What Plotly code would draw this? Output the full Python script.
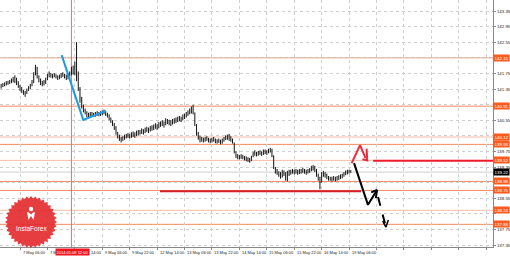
import math
import plotly.graph_objects as go

# ---------------- data ----------------
bar_start = -11  # hourly bar index, 0 = 7 May 06:00
lows = [141.36, 141.40, 141.42, 141.44, 141.46, 141.48, 141.50, 141.52, 141.50, 141.45, 141.38,
        141.30, 141.25, 141.20, 141.15, 141.22, 141.30, 141.35, 141.42, 141.50, 141.70, 141.62, 141.52, 141.45, 141.42, 141.44, 141.48,
        141.58, 141.65, 141.64, 141.62, 141.65, 141.62, 141.58, 141.60, 141.63, 141.66, 141.62, 141.58, 141.60, 141.64, 141.70, 141.72,
        141.70, 141.55, 141.30, 141.00, 140.85, 140.75, 140.70, 140.62, 140.60, 140.62, 140.64, 140.63, 140.64, 140.66, 140.65, 140.66,
        140.68, 140.70, 140.66, 140.62, 140.55, 140.48, 140.40, 140.30, 140.18, 140.08, 140.02, 139.98, 140.02, 140.05, 140.08, 140.10,
        140.08, 140.10, 140.12, 140.10, 140.14, 140.16, 140.18, 140.20, 140.18, 140.22, 140.25, 140.22, 140.26, 140.28, 140.30, 140.33,
        140.30, 140.34, 140.38, 140.40, 140.36, 140.42, 140.45, 140.42, 140.40, 140.44, 140.46, 140.48, 140.50, 140.52, 140.50, 140.55,
        140.58, 140.62, 140.66, 140.70, 140.72, 140.70, 140.40, 140.15, 140.05, 139.98, 140.00, 139.98, 140.00, 140.02, 139.98, 139.96,
        139.98, 140.00, 139.96, 139.95, 139.97, 139.93, 139.95, 140.00, 140.04, 140.05, 140.02, 140.00, 139.95, 139.70, 139.58, 139.55,
        139.54, 139.56, 139.55, 139.52, 139.50, 139.48, 139.46, 139.50, 139.60, 139.64, 139.62, 139.64, 139.66, 139.63, 139.66, 139.68,
        139.66, 139.70, 139.72, 139.60, 139.30, 139.18, 139.15, 139.10, 139.05, 139.08, 139.12, 139.00, 138.98, 139.12, 139.15, 139.18,
        139.16, 139.18, 139.15, 139.17, 139.18, 139.20, 139.18, 139.15, 139.18, 139.20, 139.24, 139.26, 139.22, 139.10, 139.00, 138.78,
        138.95, 139.10, 139.08, 139.04, 139.00, 139.00, 138.98, 139.00, 138.98, 139.00, 139.02, 139.04, 139.06, 139.10, 139.14, 139.16, 139.18, 139.20]
highs = [141.48, 141.50, 141.52, 141.55, 141.56, 141.58, 141.62, 141.66, 141.70, 141.64, 141.55,
         141.45, 141.40, 141.33, 141.30, 141.36, 141.42, 141.48, 141.58, 141.78, 141.97, 141.92, 141.70, 141.62, 141.56, 141.58, 141.64,
         141.74, 141.80, 141.76, 141.74, 141.76, 141.73, 141.70, 141.72, 141.76, 141.78, 141.74, 141.72, 141.75, 141.80, 141.92, 141.95,
         142.05, 142.55, 141.80, 141.40, 141.15, 140.95, 140.85, 140.78, 140.74, 140.76, 140.76, 140.74, 140.76, 140.78, 140.76, 140.78,
         140.80, 140.82, 140.78, 140.74, 140.70, 140.62, 140.55, 140.48, 140.40, 140.25, 140.18, 140.12, 140.14, 140.18, 140.20, 140.22,
         140.20, 140.24, 140.26, 140.24, 140.28, 140.30, 140.30, 140.34, 140.32, 140.36, 140.38, 140.36, 140.40, 140.42, 140.44, 140.47,
         140.45, 140.50, 140.52, 140.55, 140.52, 140.60, 140.58, 140.56, 140.55, 140.58, 140.60, 140.62, 140.64, 140.66, 140.64, 140.70,
         140.72, 140.76, 140.80, 140.85, 140.90, 140.94, 140.75, 140.45, 140.25, 140.15, 140.12, 140.10, 140.12, 140.14, 140.10, 140.08,
         140.10, 140.12, 140.08, 140.06, 140.08, 140.05, 140.08, 140.12, 140.16, 140.18, 140.20, 140.14, 140.08, 139.98, 139.75, 139.68,
         139.66, 139.68, 139.66, 139.63, 139.62, 139.60, 139.58, 139.64, 139.74, 139.78, 139.74, 139.76, 139.78, 139.75, 139.80, 139.80,
         139.78, 139.82, 139.84, 139.82, 139.65, 139.35, 139.30, 139.24, 139.22, 139.28, 139.26, 139.22, 139.25, 139.28, 139.28, 139.30,
         139.28, 139.30, 139.28, 139.30, 139.30, 139.33, 139.30, 139.28, 139.30, 139.32, 139.38, 139.40, 139.38, 139.30, 139.18, 139.10,
         139.22, 139.25, 139.22, 139.18, 139.12, 139.10, 139.10, 139.12, 139.10, 139.12, 139.14, 139.16, 139.18, 139.22, 139.26, 139.28, 139.28, 139.27]

tick_index = [-16, 0, 16, 32, 48, 64, 80, 96, 112, 128, 144, 160, 176, 192, 208, 224, 240, 256, 272]
# visible part of each time label (the red date box hides part of two of them)
tick_labels = ["6 May 14:00", "7 May 06:00", "7 M", "", "9 May 06:00", "9 May 22:00",
               "12 May 14:00", "13 May 06:00", "13 May 22:00", "14 May 14:00", "15 May 06:00", "15 May 22:00",
               "16 May 14:00", "19 May 06:00", "", "", "", "", ""]
price_ticks = [137.35, 137.75, 138.15, 138.55, 138.95, 139.35, 139.75, 140.15, 140.55, 140.95,
               141.35, 141.75, 142.15, 142.55, 142.95, 143.35]

level_prices = [142.15, 140.91, 140.12, 139.93, 139.52, 138.98, 138.75, 138.24, 137.88]
level_strong = [True, True, False, True, False, True, True, False, True]
current_price = 139.22

event_index = 30
event_label = "2014.05.08 12:00"
event_tail_label = "14:00"

support_line_x = [81.7, 199.0]
support_line_y = [138.73, 138.73]
resist_line_x = [206.0, 276.0]
resist_line_y = [139.51, 139.51]

blue_x = [24.3, 36.9, 50.2]
blue_y = [142.22, 140.56, 140.79]

black_x = [194.9, 203.0, 208.3]
black_y = [139.45, 138.38, 138.76]
black_head_x = [204.9, 208.3, 207.6]
black_head_y = [138.70, 138.76, 138.55]

dash_x = [208.9, 213.5]
dash_y = [138.58, 137.81]
dash_head_x = [211.6, 213.5, 214.9]
dash_head_y = [137.96, 137.81, 137.99]

red_x = [193.5, 198.4, 201.6]
red_y = [139.45, 139.91, 139.58]
red_head_x = [202.2, 202.6, 199.8]
red_head_y = [139.82, 139.52, 139.55]

# ---------------- figure ----------------
X0, X1 = -11.67, 275.96
Y0, Y1 = 137.299, 143.632
PW, PH = 493, 247

bar_index = list(range(bar_start, bar_start + len(lows)))
bx, by = [], []
for i, lo, hi in zip(bar_index, lows, highs):
    bx += [i, i, None]
    by += [lo, hi, None]

fig = go.Figure()
fig.add_trace(go.Scatter(x=bx, y=by, mode="lines", line=dict(color="#111111", width=1),
                         hoverinfo="skip", showlegend=False))
fig.add_trace(go.Scatter(x=blue_x, y=blue_y, mode="lines", line=dict(color="#1E9BE0", width=2),
                         showlegend=False))
fig.add_trace(go.Scatter(x=black_x, y=black_y, mode="lines", line=dict(color="#000000", width=2),
                         showlegend=False))
fig.add_trace(go.Scatter(x=black_head_x, y=black_head_y, mode="lines", line=dict(color="#000000", width=2),
                         showlegend=False))
fig.add_trace(go.Scatter(x=dash_x, y=dash_y, mode="lines", line=dict(color="#000000", width=2, dash="dash"),
                         showlegend=False))
fig.add_trace(go.Scatter(x=dash_head_x, y=dash_head_y, mode="lines", line=dict(color="#000000", width=1.5),
                         showlegend=False))
fig.add_trace(go.Scatter(x=red_x, y=red_y, mode="lines", line=dict(color="#F0283C", width=2),
                         showlegend=False))
fig.add_trace(go.Scatter(x=red_head_x, y=red_head_y, mode="lines", line=dict(color="#F0283C", width=2),
                         showlegend=False))

shapes = []
for p, strong in zip(level_prices, level_strong):
    shapes.append(dict(type="line", xref="paper", x0=0, x1=1, yref="y", y0=p, y1=p,
                       line=dict(color="#F58A60" if strong else "#F8BEA6", width=1), layer="between"))
shapes.append(dict(type="line", xref="paper", x0=0, x1=1, yref="y", y0=current_price, y1=current_price,
                   line=dict(color="#CFCFCF", width=1), layer="between"))
shapes.append(dict(type="line", xref="x", x0=event_index, x1=event_index, yref="paper", y0=0, y1=1,
                   line=dict(color="#EE6A6A", width=1), layer="between"))
shapes.append(dict(type="line", xref="x", yref="y", x0=support_line_x[0], x1=support_line_x[1],
                   y0=support_line_y[0], y1=support_line_y[1], line=dict(color="#D4202A", width=2)))
shapes.append(dict(type="line", xref="x", yref="y", x0=resist_line_x[0], x1=resist_line_x[1],
                   y0=resist_line_y[0], y1=resist_line_y[1], line=dict(color="#EE1C2E", width=2)))

# InstaForex logo (decorative starburst)
cx, cy, ro, ri, n = 31, 222, 26, 23.5, 36
pts = []
for k in range(2 * n):
    r = ro if k % 2 == 0 else ri
    a = math.pi * k / n
    pts.append(((cx + r * math.cos(a)) / PW, (PH - (cy + r * math.sin(a))) / PH))
path = "M " + " L ".join(f"{x:.4f},{y:.4f}" for x, y in pts) + " Z"
shapes.append(dict(type="path", xref="paper", yref="paper", path=path,
                   fillcolor="rgba(228,44,48,0.92)", line=dict(width=0), layer="above"))
hx, hy, hr = cx, 209, 2.2
shapes.append(dict(type="circle", xref="paper", yref="paper",
                   x0=(hx - hr) / PW, x1=(hx + hr) / PW, y0=(PH - hy - hr) / PH, y1=(PH - hy + hr) / PH,
                   fillcolor="white", line=dict(width=0), layer="above"))
body = [(cx - 4, 212), (cx - 2.5, 220), (cx, 216), (cx + 2.5, 220), (cx + 4, 212), (cx + 2, 212.5), (cx, 214.5), (cx - 2, 212.5)]
shapes.append(dict(type="path", xref="paper", yref="paper",
                   path="M " + " L ".join(f"{x / PW:.4f},{(PH - y) / PH:.4f}" for x, y in body) + " Z",
                   fillcolor="white", line=dict(width=0), layer="above"))

FONT = "Liberation Sans, Arial, sans-serif"
FS = 4.4
FSX = 4.0
annotations = []
for t, lab in zip(tick_index, tick_labels):
    if lab:
        annotations.append(dict(x=t, xref="x", y=0, yref="paper", yanchor="top", xanchor="left",
                                text=lab, showarrow=False, yshift=-1, xshift=0.5,
                                font=dict(family=FONT, size=FSX, color="#222222")))
annotations.append(dict(x=event_index, xref="x", y=0, yref="paper", yanchor="top", xanchor="center",
                        text=event_label, showarrow=False, yshift=-1, xshift=1.5, bgcolor="#F0141E",
                        borderpad=0.5, font=dict(family=FONT, size=FSX, color="white")))
annotations.append(dict(x=event_index, xref="x", y=0, yref="paper", yanchor="top", xanchor="left",
                        text=event_tail_label, showarrow=False, yshift=-1, xshift=18,
                        font=dict(family=FONT, size=FSX, color="#222222")))
for p in level_prices:
    annotations.append(dict(x=1, xref="paper", y=p, yref="y", xanchor="left", yanchor="middle",
                            text=f"{p:.2f}", showarrow=False, bgcolor="#FF5A1E",
                            borderpad=0.6, width=14, align="center",
                            font=dict(family=FONT, size=FS, color="white")))
annotations.append(dict(x=1, xref="paper", y=current_price, yref="y", xanchor="left", yanchor="middle",
                        text=f"{current_price:.2f}", showarrow=False, bgcolor="#000000",
                        borderpad=0.6, width=14, align="center",
                        font=dict(family=FONT, size=FS, color="white")))
annotations.append(dict(x=cx / PW, y=(PH - 228) / PH, xref="paper", yref="paper", text="InstaForex",
                        showarrow=False, font=dict(family=FONT, size=6.5, color="white"),
                        xanchor="center", yanchor="middle"))

# hide axis price labels that sit under a coloured level box (as in the reference)
covered = lambda v: any(abs(v - p) < 0.1 for p in level_prices + [current_price])
price_text = ["" if covered(v) else f"{v:.2f}" for v in price_ticks]

fig.update_layout(
    width=510, height=256,
    margin=dict(l=0, r=510 - PW, t=0, b=256 - PH),
    paper_bgcolor="white", plot_bgcolor="white",
    showlegend=False,
    shapes=shapes, annotations=annotations,
    xaxis=dict(range=[X0, X1], tickvals=tick_index, showticklabels=False, ticks="outside", ticklen=2,
               tickcolor="#888888", showgrid=True, gridcolor="#CFCFCF", griddash="dot", gridwidth=1,
               showline=True, linecolor="#888888", linewidth=1, zeroline=False, automargin=False,
               fixedrange=True),
    yaxis=dict(range=[Y0, Y1], side="right", tickvals=price_ticks, ticktext=price_text,
               ticks="outside", ticklen=2, tickcolor="#888888",
               tickfont=dict(family=FONT, size=FS, color="#222222"),
               showgrid=True, gridcolor="#CFCFCF", griddash="dot", gridwidth=1,
               showline=True, linecolor="#888888", linewidth=1, zeroline=False, automargin=False,
               fixedrange=True),
)

fig.write_html("out.html")
